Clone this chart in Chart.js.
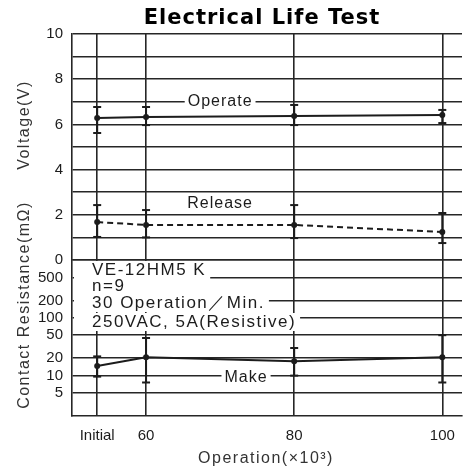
<!DOCTYPE html>
<html>
<head>
<meta charset="utf-8">
<script src="https://cdn.jsdelivr.net/npm/chart.js@4"></script>
<style>
  html, body { margin: 0; padding: 0; background: #fff; }
  #wrap { width: 468px; height: 472px; }
</style>
</head>
<body>
<div id="wrap"><canvas id="chart" width="468" height="472"></canvas></div>
<script>
// x axis (operations x10^3); "Initial" sits on the broken part of the axis
const xLabels = ["Initial", "60", "80", "100"];
const xValues = [53.4, 60, 80, 100];

// operate voltage (V)
const operateMean = [6.28, 6.33, 6.37, 6.42];
const operateMax  = [6.77, 6.77, 6.86, 6.64];
const operateMin  = [5.62, 5.97, 5.97, 6.06];

// release voltage (V)
const releaseMean = [1.68, 1.55, 1.55, 1.24];
const releaseMax  = [2.43, 2.21, 2.43, 2.08];
const releaseMin  = [1.02, 1.00, 0.97, 0.75];

// contact resistance, make (mOhm)
const makeMean = [14.7, 20.7, 17.8, 20.7];
const makeMax  = [21.5, 44.7, 30, 50];
const makeMin  = [9.6, 7.6, 10, 7.6];

// tick labels
const voltTicks = [0, 1, 2, 3, 4, 5, 6, 7, 8, 9, 10];
const resTicks = [5, 10, 20, 50, 100, 200, 500, 1000];
const resTickLabels = ["5", "10", "20", "50", "100", "200", "500", ""];

const INK = "#1c1c1c";
const GRID = "#262626";

function meanPoints(vals) {
  return vals.map((v, i) => ({ x: xValues[i], y: v }));
}

// vertical min-max bars, broken by nulls
function rangePoints(mins, maxs) {
  const pts = [];
  mins.forEach((m, i) => {
    pts.push({ x: xValues[i], y: m });
    pts.push({ x: xValues[i], y: maxs[i] });
    pts.push({ x: xValues[i], y: null });
  });
  return pts;
}

function meanSet(vals, axis, dash) {
  return {
    data: meanPoints(vals),
    yAxisID: axis,
    borderColor: INK,
    backgroundColor: INK,
    borderWidth: 2,
    borderDash: dash || [],
    pointRadius: 3,
    pointBackgroundColor: INK,
    pointBorderWidth: 0,
    tension: 0
  };
}

function rangeSet(mins, maxs, axis) {
  return {
    data: rangePoints(mins, maxs),
    yAxisID: axis,
    borderColor: INK,
    borderWidth: 2,
    spanGaps: false,
    pointStyle: "line",
    pointRadius: 4,
    pointBorderWidth: 2,
    pointBorderColor: INK,
    tension: 0
  };
}

// text on the chart: title, axis titles, notes
const textPlugin = {
  id: "texts",
  afterDatasetsDraw(chart) {
    const { ctx, chartArea, scales } = chart;
    const x = scales.x, y = scales.y, y2 = scales.y2;

    function label(text, px, py, font, spacing) {
      ctx.save();
      ctx.font = font;
      ctx.letterSpacing = spacing || "0px";
      ctx.textAlign = "center";
      ctx.textBaseline = "middle";
      const w = ctx.measureText(text).width;
      ctx.fillStyle = "#fff";
      ctx.fillRect(px - w / 2 - 3, py - 8, w + 6, 16);
      ctx.fillStyle = INK;
      ctx.fillText(text, px, py);
      ctx.restore();
    }

    // series names
    label("Operate", x.getPixelForValue(70), y.getPixelForValue(7), "16px 'Liberation Sans'", "1px");
    label("Release", x.getPixelForValue(70), y.getPixelForValue(2.5), "16px 'Liberation Sans'", "1px");
    label("Make", x.getPixelForValue(73.5), y2.getPixelForValue(10) + 2, "16px 'Liberation Sans'", "1px");

    // test conditions
    const notes = ["VE-12HM5 K", "n=9", "30 Operation\uFF0FMin.", "250VAC, 5A(Resistive)"];
    const noteY = [270, 286, 303, 322];
    ctx.save();
    ctx.font = "17px 'Liberation Sans'";
    ctx.letterSpacing = "1.5px";
    ctx.textBaseline = "middle";
    ctx.textAlign = "left";
    notes.forEach((t, i) => {
      const w = Math.max(ctx.measureText(t).width + 22, 96);
      ctx.fillStyle = "#fff";
      ctx.fillRect(chartArea.left + 2, noteY[i] - 9, w, 18);
    });
    ctx.fillStyle = INK;
    notes.forEach((t, i) => ctx.fillText(t, chartArea.left + 20, noteY[i]));
    ctx.restore();

    // title
    ctx.save();
    ctx.font = "bold 21px 'DejaVu Sans'";
    ctx.letterSpacing = "1px";
    ctx.fillStyle = "#000";
    ctx.textAlign = "center";
    ctx.textBaseline = "middle";
    ctx.fillText("Electrical Life Test", 262, 19);
    ctx.restore();

    // axis titles
    ctx.save();
    ctx.font = "16px 'Liberation Sans'";
    ctx.letterSpacing = "1.5px";
    ctx.fillStyle = "#333";
    ctx.textAlign = "center";
    ctx.textBaseline = "middle";
    ctx.fillText("Operation(\u00D710\u00B3)", 266, 459);
    ctx.translate(25, 125);
    ctx.rotate(-Math.PI / 2);
    ctx.fillText("Voltage(V)", 0, 0);
    ctx.restore();

    ctx.save();
    ctx.font = "16px 'Liberation Sans'";
    ctx.letterSpacing = "1.5px";
    ctx.fillStyle = "#333";
    ctx.textAlign = "center";
    ctx.textBaseline = "middle";
    ctx.translate(25, 305);
    ctx.rotate(-Math.PI / 2);
    ctx.fillText("Contact Resistance(m\u03A9)", 0, 0);
    ctx.restore();
  }
};

const gridOpts = { color: GRID, lineWidth: 1.6, drawTicks: false };
const borderOpts = { display: true, color: GRID, width: 1.6 };
const tickFont = { family: "'Liberation Sans'", size: 15 };

new Chart(document.getElementById("chart"), {
  type: "line",
  data: {
    datasets: [
      rangeSet(operateMin, operateMax, "y"),
      meanSet(operateMean, "y"),
      rangeSet(releaseMin, releaseMax, "y"),
      meanSet(releaseMean, "y", [6, 4]),
      rangeSet(makeMin, makeMax, "y2"),
      meanSet(makeMean, "y2")
    ]
  },
  options: {
    responsive: false,
    animation: false,
    devicePixelRatio: 1,
    layout: { padding: { top: 34, right: 0, left: 0, bottom: 0 } },
    plugins: {
      legend: { display: false },
      tooltip: { enabled: false },
      title: { display: false }
    },
    scales: {
      x: {
        type: "linear",
        position: "bottom",
        min: 50,
        max: 102.66,
        afterBuildTicks: (s) => { s.ticks = xValues.map(v => ({ value: v })); },
        afterFit: (s) => { s.height = 56; },
        grid: gridOpts,
        border: borderOpts,
        ticks: {
          autoSkip: false,
          maxRotation: 0,
          padding: 11,
          color: INK,
          font: tickFont,
          callback: (v, i) => xLabels[i]
        }
      },
      // bottom panel first: the stack places later left axes on top
      y2: {
        type: "logarithmic",
        position: "left",
        stack: "panels",
        stackWeight: 156,
        min: 2,
        max: 1000,
        afterBuildTicks: (s) => { s.ticks = resTicks.map(v => ({ value: v })); },
        afterFit: (s) => { s.width = 72; },
        grid: gridOpts,
        border: borderOpts,
        ticks: {
          autoSkip: false,
          padding: 9,
          color: INK,
          font: tickFont,
          callback: (v, i) => resTickLabels[i]
        }
      },
      y: {
        type: "linear",
        position: "left",
        stack: "panels",
        stackWeight: 226,
        min: 0,
        max: 10,
        afterBuildTicks: (s) => { s.ticks = voltTicks.map(v => ({ value: v })); },
        afterFit: (s) => { s.width = 72; },
        grid: gridOpts,
        border: borderOpts,
        ticks: {
          autoSkip: false,
          padding: 9,
          color: INK,
          font: tickFont,
          callback: (v) => (v % 2 === 0 ? String(v) : "")
        }
      }
    }
  },
  plugins: [textPlugin]
});
</script>
</body>
</html>
